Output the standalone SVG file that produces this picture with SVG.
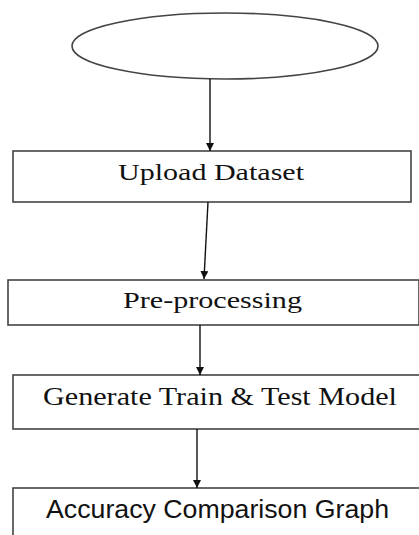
<svg xmlns="http://www.w3.org/2000/svg" width="419" height="535" viewBox="0 0 419 535">
<style>
.box{fill:#fff;stroke:#444;stroke-width:1.6}
.serif{font-family:"Liberation Serif","Times New Roman",serif;fill:#111}
.sans{font-family:"Liberation Sans",Arial,sans-serif;fill:#111}
.conn{stroke:#111;stroke-width:1.4;fill:none}
</style>
<defs>
<marker id="ah" markerWidth="8" markerHeight="8" refX="8" refY="4" orient="auto" markerUnits="userSpaceOnUse">
<path d="M0,0 L8,4 L0,8 Z" fill="#111"/>
</marker>
</defs>
<rect width="419" height="535" fill="#fff"/>
<g id="start">
<ellipse cx="225" cy="46" rx="153" ry="33" class="box"/>
</g>
<g id="upload">
<rect x="13" y="151" width="398" height="51" class="box"/>
<text x="118" y="180" class="serif" font-size="24" textLength="186" lengthAdjust="spacingAndGlyphs">Upload Dataset</text>
</g>
<g id="preprocessing">
<rect x="8" y="280" width="411" height="45" class="box"/>
<text x="123" y="308" class="serif" font-size="24" textLength="179" lengthAdjust="spacingAndGlyphs">Pre-processing</text>
</g>
<g id="generate">
<rect x="13" y="375" width="420" height="54" class="box"/>
<text x="43" y="405" class="serif" font-size="25" textLength="354" lengthAdjust="spacingAndGlyphs">Generate Train &amp; Test Model</text>
</g>
<g id="accuracy">
<rect x="13" y="488" width="420" height="60" class="box"/>
<text x="46" y="518" class="sans" font-size="25" textLength="343" lengthAdjust="spacingAndGlyphs">Accuracy Comparison Graph</text>
</g>
<g id="connectors">
<line x1="210" y1="79" x2="210" y2="151" class="conn" marker-end="url(#ah)"/>
<line x1="208" y1="202" x2="204" y2="279" class="conn" marker-end="url(#ah)"/>
<line x1="200" y1="325" x2="200" y2="375" class="conn" marker-end="url(#ah)"/>
<line x1="197" y1="429" x2="197" y2="488" class="conn" marker-end="url(#ah)"/>
</g>
</svg>
